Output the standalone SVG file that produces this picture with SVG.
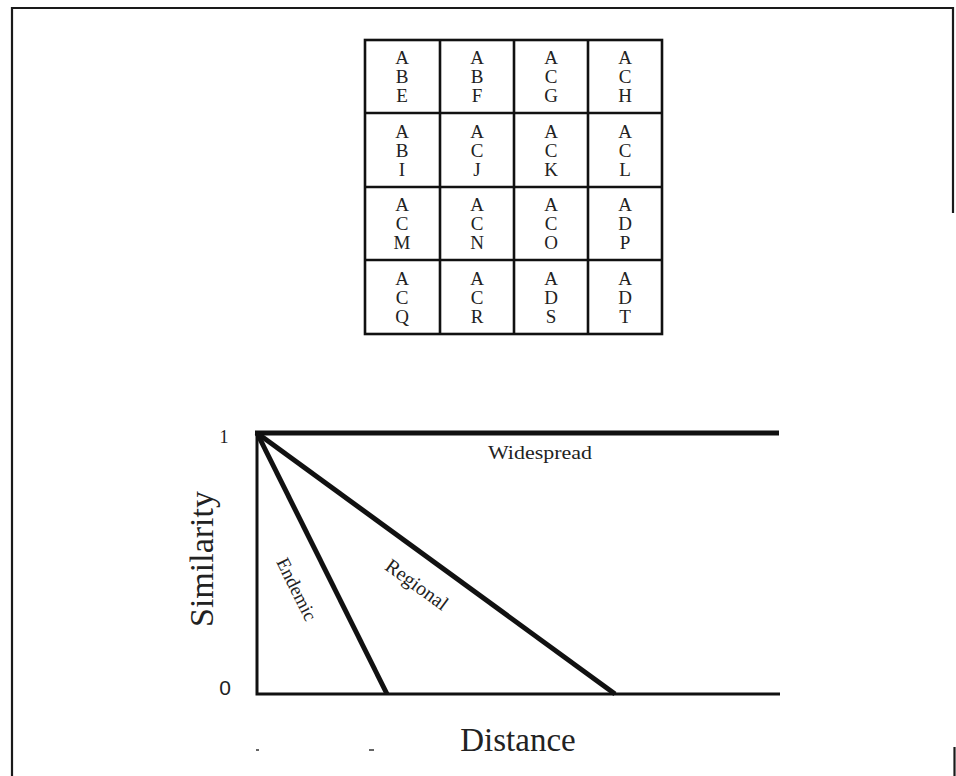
<svg xmlns="http://www.w3.org/2000/svg" width="956" height="776" viewBox="0 0 956 776">
<style>
.frame{fill:none;stroke:#1a1a1a;stroke-width:2.2}
.grid{fill:none;stroke:#111;stroke-width:2.6}
.cell{font-family:"Liberation Serif","DejaVu Serif",serif;font-size:19px;fill:#222;text-anchor:middle}
.axis{stroke:#111;stroke-width:3;fill:none;stroke-linecap:butt}
.curve{stroke:#111;stroke-width:5;fill:none;stroke-linecap:butt}
.lbl{font-family:"Liberation Serif","DejaVu Serif",serif;fill:#222}
.tick{stroke:#333;stroke-width:1.5}
</style>
<rect width="956" height="776" fill="#fff"/>
<g id="frame">
<path class="frame" d="M12 776 V8 H953 V213"/>
<line class="frame" x1="954.5" y1="747" x2="954.5" y2="776"/>
</g>
<g id="grid">
<rect class="grid" x="365" y="40" width="297" height="294"/>
<path class="grid" d="M440 40V334M514 40V334M588 40V334M365 113H662M365 187H662M365 260H662"/>
</g>
<g id="cells">
<g id="c11"><text class="cell" x="402" y="64">A</text><text class="cell" x="402" y="83">B</text><text class="cell" x="402" y="102">E</text></g>
<g id="c12"><text class="cell" x="477" y="64">A</text><text class="cell" x="477" y="83">B</text><text class="cell" x="477" y="102">F</text></g>
<g id="c13"><text class="cell" x="551" y="64">A</text><text class="cell" x="551" y="83">C</text><text class="cell" x="551" y="102">G</text></g>
<g id="c14"><text class="cell" x="625" y="64">A</text><text class="cell" x="625" y="83">C</text><text class="cell" x="625" y="102">H</text></g>
<g id="c21"><text class="cell" x="402" y="138">A</text><text class="cell" x="402" y="157">B</text><text class="cell" x="402" y="176">I</text></g>
<g id="c22"><text class="cell" x="477" y="138">A</text><text class="cell" x="477" y="157">C</text><text class="cell" x="477" y="176">J</text></g>
<g id="c23"><text class="cell" x="551" y="138">A</text><text class="cell" x="551" y="157">C</text><text class="cell" x="551" y="176">K</text></g>
<g id="c24"><text class="cell" x="625" y="138">A</text><text class="cell" x="625" y="157">C</text><text class="cell" x="625" y="176">L</text></g>
<g id="c31"><text class="cell" x="402" y="211">A</text><text class="cell" x="402" y="230">C</text><text class="cell" x="402" y="249">M</text></g>
<g id="c32"><text class="cell" x="477" y="211">A</text><text class="cell" x="477" y="230">C</text><text class="cell" x="477" y="249">N</text></g>
<g id="c33"><text class="cell" x="551" y="211">A</text><text class="cell" x="551" y="230">C</text><text class="cell" x="551" y="249">O</text></g>
<g id="c34"><text class="cell" x="625" y="211">A</text><text class="cell" x="625" y="230">D</text><text class="cell" x="625" y="249">P</text></g>
<g id="c41"><text class="cell" x="402" y="285">A</text><text class="cell" x="402" y="304">C</text><text class="cell" x="402" y="323">Q</text></g>
<g id="c42"><text class="cell" x="477" y="285">A</text><text class="cell" x="477" y="304">C</text><text class="cell" x="477" y="323">R</text></g>
<g id="c43"><text class="cell" x="551" y="285">A</text><text class="cell" x="551" y="304">D</text><text class="cell" x="551" y="323">S</text></g>
<g id="c44"><text class="cell" x="625" y="285">A</text><text class="cell" x="625" y="304">D</text><text class="cell" x="625" y="323">T</text></g>
</g>
<g id="chart">
<path class="axis" d="M257 433 V694 H780"/>
<line class="curve" x1="255" y1="433" x2="779" y2="433"/>
<line class="curve" x1="257" y1="433" x2="387" y2="694"/>
<line class="curve" x1="257" y1="433" x2="615" y2="694"/>
<text class="lbl" x="224" y="443" font-size="18" text-anchor="middle">1</text>
<text x="225" y="695" font-family="Liberation Sans, sans-serif" font-size="21" fill="#222" text-anchor="middle" font-weight="normal">0</text>
<text class="lbl" x="488" y="459" font-size="19" textLength="104" lengthAdjust="spacingAndGlyphs">Widespread</text>
<text class="lbl" font-size="19" text-anchor="middle" transform="translate(291 592) rotate(63.5)">Endemic</text>
<text class="lbl" font-size="20" text-anchor="middle" transform="translate(413 590) rotate(36)">Regional</text>
<text class="lbl" font-size="34" text-anchor="middle" transform="translate(213 559) rotate(-90)">Similarity</text>
<text class="lbl" x="518" y="751" font-size="33" text-anchor="middle">Distance</text>
<line class="tick" x1="256" y1="750" x2="259" y2="750"/>
<line class="tick" x1="369" y1="750" x2="374" y2="750"/>
</g>
</svg>
